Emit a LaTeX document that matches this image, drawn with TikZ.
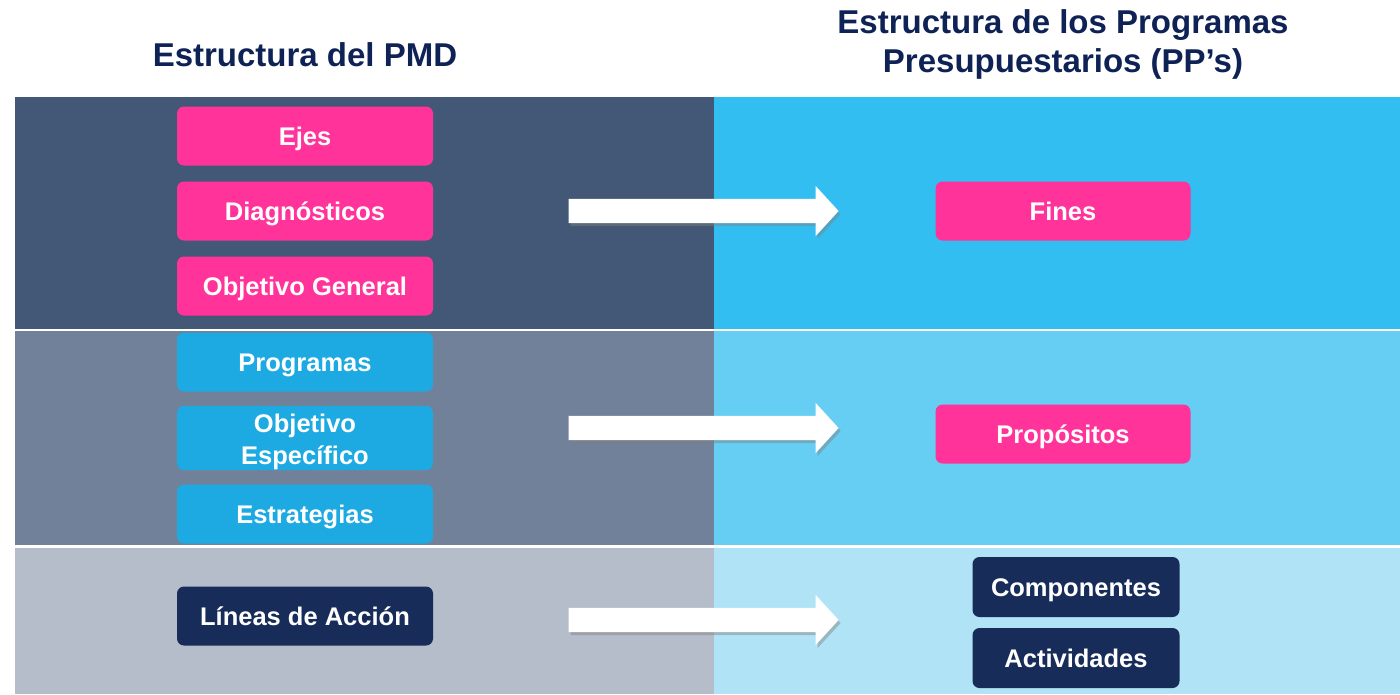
\documentclass[tikz,border=0pt]{standalone}
\usepackage{fontspec}
\setmainfont{Liberation Sans}
\usetikzlibrary{shapes.arrows,shadows}

\definecolor{titulo}{HTML}{0E2255}
\definecolor{rosa}{HTML}{FF3399}
\definecolor{celeste}{HTML}{1DAAE2}
\definecolor{marino}{HTML}{182C5A}
\definecolor{izqA}{HTML}{435876}
\definecolor{izqB}{HTML}{718199}
\definecolor{izqC}{HTML}{B5BCCA}
\definecolor{derA}{HTML}{33BEF2}
\definecolor{derB}{HTML}{66CEF2}
\definecolor{derC}{HTML}{B0E3F5}

\tikzset{
  caja/.style={rounded corners=7pt, text=white, font=\bfseries\fontsize{25.5}{28}\selectfont,
    minimum height=59pt, align=center, inner sep=0pt, text height=18pt, text depth=0pt},
  cajaizq/.style={caja, minimum width=256pt},
  flecha/.style={single arrow, fill=white, minimum height=270pt, inner sep=0pt,
    text height=24pt, text depth=0pt, text width=0pt, single arrow head extend=13pt,
    single arrow tip angle=95,
    drop shadow={opacity=0.45, shadow xshift=2pt, shadow yshift=-3pt}},
}

\begin{document}
\begin{tikzpicture}[x=1pt, y=-1pt]
    \useasboundingbox[fill=white] (0,0) rectangle (1400,694);

    % franjas
    \fill[izqA] (15,97) rectangle (714,329);
    \fill[izqB] (15,331) rectangle (714,545);
    \fill[izqC] (15,548) rectangle (714,694);
    \fill[derA] (714,97) rectangle (1400,329);
    \fill[derB] (714,331) rectangle (1400,545);
    \fill[derC] (714,548) rectangle (1400,694);

    % titulos
    \node[text=titulo, font=\bfseries\fontsize{33}{35}\selectfont] (tpmd) at (305,55) {Estructura del PMD};
    \node[text=titulo, font=\bfseries\fontsize{33}{39}\selectfont, align=center] (tpp) at (1063,44)
        {Estructura de los Programas\\Presupuestarios (PP’s)};

    % PMD
    \node[cajaizq, fill=rosa] (ejes) at (305,136) {Ejes};
    \node[cajaizq, fill=rosa] (diag) at (305,211) {Diagnósticos};
    \node[cajaizq, fill=rosa] (objgen) at (305,286) {Objetivo General};
    \node[cajaizq, fill=celeste] (prog) at (305,362) {Programas};
    \node[cajaizq, fill=celeste, font=\bfseries\fontsize{25.5}{32}\selectfont,
          text height=, text depth=] (objesp) at (305,438) {\rule{0pt}{27pt}Objetivo\\Específico};
    \node[cajaizq, fill=celeste] (estr) at (305,514) {Estrategias};
    \node[cajaizq, fill=marino] (lineas) at (305,616) {Líneas de Acción};

    % PP's
    \node[caja, fill=rosa, minimum width=255pt] (fines) at (1063,211) {Fines};
    \node[caja, fill=rosa, minimum width=255pt] (prop) at (1063,434) {Propósitos};
    \node[caja, fill=marino, minimum width=207pt, minimum height=60pt] (comp) at (1076,587) {Componentes};
    \node[caja, fill=marino, minimum width=207pt, minimum height=60pt] (activ) at (1076,658) {Actividades};

    % flechas
    \node[flecha] (f1) at (698,211) {};
    \node[flecha] (f2) at (698,428) {};
    \node[flecha] (f3) at (698,620) {};
\end{tikzpicture}
\end{document}
